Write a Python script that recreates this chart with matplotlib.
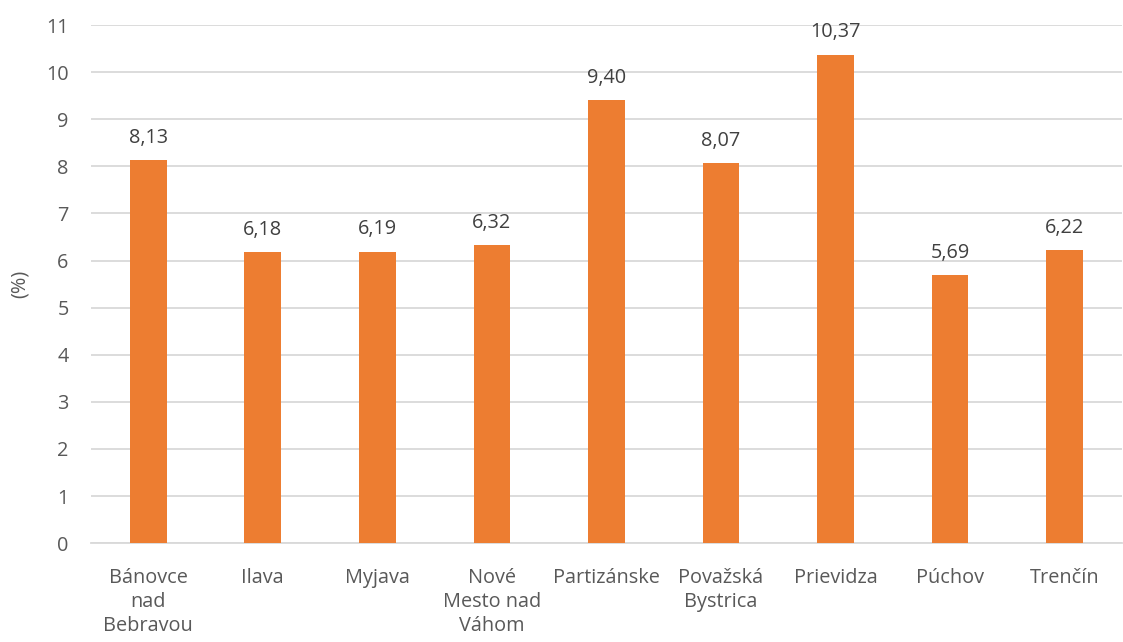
import matplotlib
matplotlib.use("Agg")
import matplotlib.pyplot as plt
import numpy as np

# districts of the Trenčín region and their rates
districts = ["Bánovce\nnad\nBebravou", "Ilava", "Myjava", "Nové\nMesto nad\nVáhom",
             "Partizánske", "Považská\nBystrica", "Prievidza", "Púchov", "Trenčín"]
rates = [8.13, 6.18, 6.19, 6.32, 9.40, 8.07, 10.37, 5.69, 6.22]
yticks = list(range(0, 12))

plt.rcParams['font.family'] = ['Open Sans', 'DejaVu Sans']
text_color = '#595959'
grid_color = '#d9d9d9'
bar_color = '#ED7D31'
fs = 14.3

fig = plt.figure(figsize=(11.23, 6.42), dpi=100)
ax = fig.add_axes([0.081, 0.154, 0.918, 0.807])

x = np.arange(len(districts))
bars = ax.bar(x, rates, width=0.32, color=bar_color, zorder=3)

for xi, v in zip(x, rates):
    ax.annotate(f"{v:.2f}".replace('.', ','), (xi, v), xytext=(0, 9),
                textcoords='offset points', ha='center', va='bottom',
                fontsize=fs, color='#404040')

ax.set_xlim(-0.5, len(districts) - 0.5)
ax.set_ylim(0, 11)
ax.set_yticks(yticks)
ax.set_yticklabels([str(t) for t in yticks], fontsize=fs, color=text_color)
ax.set_xticks(x)
ax.set_xticklabels(districts, fontsize=fs, color=text_color, linespacing=1.25)
ax.tick_params(axis='both', length=0)
ax.tick_params(axis='x', pad=18)
ax.tick_params(axis='y', pad=16)
ax.grid(axis='y', color=grid_color, linewidth=1.3, zorder=0)
for s in ['top', 'right', 'left']:
    ax.spines[s].set_visible(False)
ax.spines['bottom'].set_color(grid_color)
ax.spines['bottom'].set_linewidth(1.3)
ax.set_ylabel("(%)", fontsize=fs, color=text_color, labelpad=12)

fig.savefig("out.png", dpi=100)
